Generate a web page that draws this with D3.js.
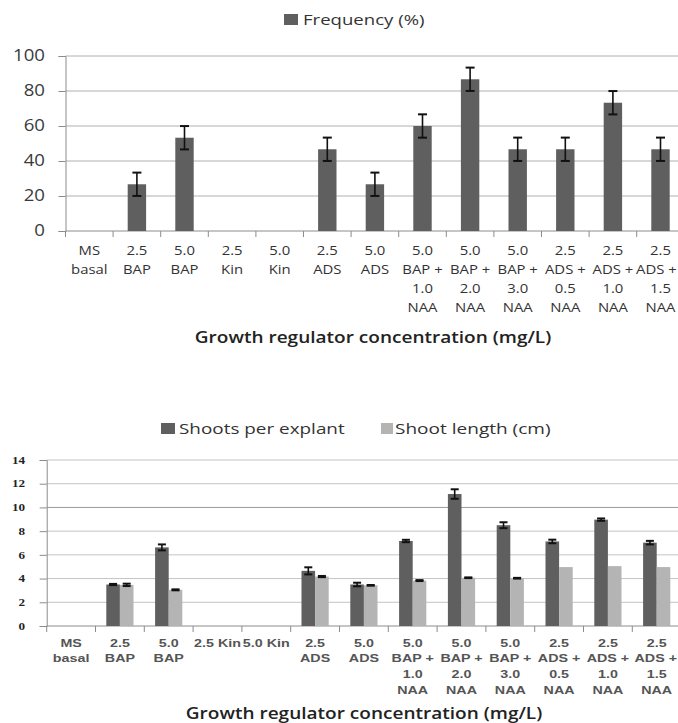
<!DOCTYPE html>
<html><head><meta charset="utf-8">
<script src="https://cdn.jsdelivr.net/npm/d3@7/dist/d3.min.js"></script>
<style>
body{margin:0;background:#fff;}
svg{display:block;}
</style></head>
<body>
<svg id="c" width="678" height="723"></svg>
<script>
// ---- data ----
const categories = [
  ["MS","basal"],["2.5","BAP"],["5.0","BAP"],["2.5","Kin"],["5.0","Kin"],
  ["2.5","ADS"],["5.0","ADS"],
  ["5.0","BAP +","1.0","NAA"],["5.0","BAP +","2.0","NAA"],["5.0","BAP +","3.0","NAA"],
  ["2.5","ADS +","0.5","NAA"],["2.5","ADS +","1.0","NAA"],["2.5","ADS +","1.5","NAA"]
];
const bottomCategories = [
  ["MS","basal"],["2.5","BAP"],["5.0","BAP"],["2.5 Kin"],["5.0 Kin"],
  ["2.5","ADS"],["5.0","ADS"],
  ["5.0","BAP +","1.0","NAA"],["5.0","BAP +","2.0","NAA"],["5.0","BAP +","3.0","NAA"],
  ["2.5","ADS +","0.5","NAA"],["2.5","ADS +","1.0","NAA"],["2.5","ADS +","1.5","NAA"]
];
const frequency    = [0, 26.7, 53.3, 0, 0, 46.7, 26.7, 60, 86.7, 46.7, 46.7, 73.3, 46.7];
const frequencyErr = [0, 6.67, 6.67, 0, 0, 6.67, 6.67, 6.67, 6.67, 6.67, 6.67, 6.67, 6.67];
const shoots       = [0, 3.5, 6.63, 0, 0, 4.65, 3.5, 7.17, 11.13, 8.5, 7.13, 8.97, 7.03];
const shootsErr    = [0, 0.05, 0.25, 0, 0, 0.3, 0.15, 0.1, 0.4, 0.25, 0.15, 0.1, 0.15];
const lengthCm     = [0, 3.47, 3.05, 0, 0, 4.17, 3.43, 3.83, 4.07, 4.03, 4.97, 5.05, 4.97];
const lengthErr    = [0, 0.1, 0.04, 0, 0, 0.05, 0.03, 0.04, 0.03, 0.03, 0, 0, 0];
const topTicks = [0, 20, 40, 60, 80, 100];
const bottomTicks = [0, 2, 4, 6, 8, 10, 12, 14];
const xTitle = "Growth regulator concentration (mg/L)";
const topLegend = ["Frequency (%)"];
const bottomLegend = ["Shoots per explant", "Shoot length (cm)"];

const svg = d3.select("#c");
const W = 678;
const DARK = "#5f5f5f", LIGHT = "#b4b4b4", GRID = "#b0b0b0", AXIS = "#8c8c8c";
const idx = d3.range(categories.length);

// horizontally stretched text (the reference image is stretched sideways)
function sText(g, x, y, txt, o){
  const grp = g.append("g").attr("transform", `translate(${x},${y}) scale(${o.sx||1},1)`);
  const t = grp.append("text").attr("x",0).attr("y",0).attr("dy","0.35em")
    .attr("text-anchor", o.anchor || "middle")
    .attr("font-family", o.family || "Open Sans, sans-serif")
    .attr("font-size", o.size).attr("font-weight", o.weight || "normal")
    .attr("fill", o.fill || "#333").text(txt);
  if (o.clamp) {
    const bb = t.node().getBBox();
    const right = x + (bb.x + bb.width) * (o.sx||1);
    if (right > W - 1) grp.attr("transform", `translate(${x - (right - (W - 1))},${y}) scale(${o.sx||1},1)`);
  }
  return t;
}

function errBar(g, cx, yv, e, y, cap){
  if (!e) return;
  const y1 = y(yv + e), y2 = y(yv - e);
  g.append("line").attr("x1",cx).attr("x2",cx).attr("y1",y1).attr("y2",y2).attr("stroke","#111").attr("stroke-width",1.6);
  g.append("line").attr("x1",cx-cap/2).attr("x2",cx+cap/2).attr("y1",y1).attr("y2",y1).attr("stroke","#111").attr("stroke-width",2);
  g.append("line").attr("x1",cx-cap/2).attr("x2",cx+cap/2).attr("y1",y2).attr("y2",y2).attr("stroke","#111").attr("stroke-width",2);
}

// ================= TOP CHART =================
{
  const g = svg.append("g");
  const x0 = 65.5;
  const x = d3.scaleBand().domain(idx).range([x0, x0 + 13*47.6]).padding(0);
  const y = d3.scaleLinear().domain([0, 100]).range([231, 56]);

  g.append("g").selectAll("line").data(topTicks.slice(1)).join("line")
    .attr("x1", x0).attr("x2", W).attr("y1", d=>y(d)).attr("y2", d=>y(d))
    .attr("stroke", GRID).attr("stroke-width", 1);

  const ya = g.append("g").attr("transform",`translate(${x0},0)`)
    .call(d3.axisLeft(y).tickValues(topTicks).tickSize(7).tickFormat(""));
  ya.select(".domain").attr("stroke", AXIS);
  ya.selectAll(".tick line").attr("stroke", AXIS);
  topTicks.forEach(v => sText(g, 45, y(v), String(v), {size:15.5, sx:1.2, anchor:"end", fill:"#3a3a3a"}));

  const xa = g.append("g").attr("transform","translate(0,231)");
  xa.append("line").attr("x1",x0).attr("x2",W).attr("stroke",AXIS);
  xa.selectAll("line.t").data(d3.range(13)).join("line").attr("class","t")
    .attr("x1", d => x(d)).attr("x2", d => x(d))
    .attr("y1",0).attr("y2",6).attr("stroke",AXIS);

  const bw = 18.4;
  g.append("g").selectAll("rect").data(idx.filter(i=>frequency[i]>0)).join("rect")
    .attr("x", i => x(i) + x.bandwidth()/2 - bw/2).attr("width", bw)
    .attr("y", i => y(frequency[i])).attr("height", i => y(0) - y(frequency[i]))
    .attr("fill", DARK);
  const eg = g.append("g");
  idx.forEach(i => { if (frequency[i] > 0) errBar(eg, x(i)+x.bandwidth()/2, frequency[i], frequencyErr[i], y, 9); });

  const lineY = [251, 270, 289, 308];
  categories.forEach((c,i) => {
    c.forEach((t,k) => sText(g, x(i)+x.bandwidth()/2, lineY[k], t, {size:12, sx:1.24, fill:"#333", clamp:true}));
  });

  sText(g, 373, 337, xTitle, {size:17, sx:1.12, weight:600, fill:"#222"});

  g.append("rect").attr("x",284).attr("y",14).attr("width",14).attr("height",11).attr("fill",DARK);
  sText(g, 303, 19.5, topLegend[0], {size:15, sx:1.24, anchor:"start", fill:"#333"});
}

// ================= BOTTOM CHART =================
{
  const g = svg.append("g");
  const x0 = 46.7;
  const x = d3.scaleBand().domain(idx).range([x0, x0 + 13*48.8]).padding(0);
  const y = d3.scaleLinear().domain([0, 14]).range([626, 460]);

  g.append("g").selectAll("line").data(bottomTicks.slice(1)).join("line")
    .attr("x1", x0).attr("x2", W).attr("y1", d=>y(d)).attr("y2", d=>y(d))
    .attr("stroke", d => d === 10 ? "#9a9a9a" : "#c4c4c4").attr("stroke-width", 1);

  const ya = g.append("g").attr("transform",`translate(${x0},0)`)
    .call(d3.axisLeft(y).tickValues(bottomTicks).tickSize(7).tickFormat(""));
  ya.select(".domain").attr("stroke", AXIS);
  ya.selectAll(".tick line").attr("stroke", AXIS);
  bottomTicks.forEach(v => sText(g, 25, y(v), String(v), {size:10.5, sx:1.25, anchor:"end", weight:"bold", family:"Liberation Serif, serif", fill:"#222"}));

  const xa = g.append("g").attr("transform","translate(0,626)");
  xa.append("line").attr("x1",x0).attr("x2",W).attr("stroke",AXIS);
  xa.selectAll("line.t").data(d3.range(13)).join("line").attr("class","t")
    .attr("x1", d => x(d)).attr("x2", d => x(d))
    .attr("y1",0).attr("y2",6).attr("stroke",AXIS);

  const bw = 13.6;
  g.append("g").selectAll("rect").data(idx.filter(i=>shoots[i]>0)).join("rect")
    .attr("x", i => x(i) + x.bandwidth()/2 - bw).attr("width", bw)
    .attr("y", i => y(shoots[i])).attr("height", i => y(0) - y(shoots[i]))
    .attr("fill", DARK);
  g.append("g").selectAll("rect").data(idx.filter(i=>lengthCm[i]>0)).join("rect")
    .attr("x", i => x(i) + x.bandwidth()/2).attr("width", bw)
    .attr("y", i => y(lengthCm[i])).attr("height", i => y(0) - y(lengthCm[i]))
    .attr("fill", LIGHT);
  const eg = g.append("g");
  idx.forEach(i => {
    if (shoots[i] > 0) errBar(eg, x(i)+x.bandwidth()/2 - bw/2, shoots[i], shootsErr[i], y, 8);
    if (lengthCm[i] > 0) errBar(eg, x(i)+x.bandwidth()/2 + bw/2, lengthCm[i], lengthErr[i], y, 8);
  });

  const lineY = [643, 658, 674, 690];
  bottomCategories.forEach((c,i) => {
    c.forEach((t,k) => sText(g, x(i)+x.bandwidth()/2, lineY[k], t, {size:11, sx:1.3, weight:"bold", family:"Liberation Sans, sans-serif", fill:"#555", clamp:true}));
  });

  sText(g, 364, 713, xTitle, {size:17, sx:1.12, weight:600, fill:"#222"});

  g.append("rect").attr("x",161).attr("y",423).attr("width",14).attr("height",11).attr("fill",DARK);
  sText(g, 179, 428.5, bottomLegend[0], {size:15, sx:1.26, anchor:"start", fill:"#333"});
  g.append("rect").attr("x",381).attr("y",423).attr("width",12).attr("height",11).attr("fill",LIGHT);
  sText(g, 395, 428.5, bottomLegend[1], {size:15, sx:1.27, anchor:"start", fill:"#333"});
}
</script>
</body></html>
